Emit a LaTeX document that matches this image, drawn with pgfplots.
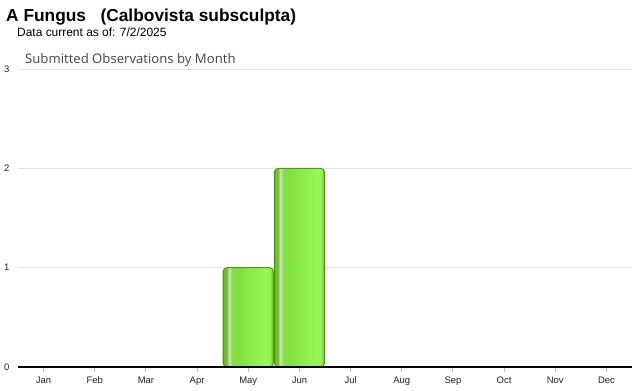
\documentclass[border=0pt]{standalone}
\usepackage{pgfplots}
\pgfplotsset{compat=1.18}
\usepackage{fontspec}
\setmainfont{Liberation Sans}
\newfontfamily\subfont{Open Sans}
\definecolor{gEdge}{RGB}{76,156,12}
\definecolor{gB}{RGB}{120,200,56}
\definecolor{gDk}{RGB}{104,184,40}
\definecolor{gHi}{RGB}{200,228,176}
\definecolor{gC}{RGB}{136,220,80}
\definecolor{gM}{RGB}{128,224,64}
\definecolor{gD}{RGB}{152,248,88}
\definecolor{gF}{RGB}{144,240,80}
\definecolor{gG}{RGB}{108,192,32}
\definecolor{gE}{RGB}{88,168,16}
\definecolor{gridc}{RGB}{228,228,228}
\pgfdeclarehorizontalshading{barshade}{100bp}{color(0bp)=(gEdge); color(25bp)=(gEdge); color(26.5bp)=(gB); color(28bp)=(gDk); color(31bp)=(gHi); color(34bp)=(gC); color(40bp)=(gM); color(68bp)=(gD); color(72bp)=(gF); color(74bp)=(gG); color(75bp)=(gE); color(100bp)=(gE)}
\pgfplotstableread{
x y
1 0
2 0
3 0
4 0
5 1
6 2
7 0
8 0
9 0
10 0
11 0
12 0
}\obsdata
\begin{document}
\begin{tikzpicture}[x=1bp,y=1bp]
\path (0,0) rectangle (640,390);
\node[anchor=base west, inner sep=0, font=\fontsize{17.4}{19}\selectfont\bfseries] at (6,369) {A Fungus\ \ \ (Calbovista subsculpta)};
\node[anchor=base west, inner sep=0, font=\fontsize{12}{14}\selectfont] at (17,354) {Data current as of: 7/2/2025};
\node[anchor=base west, inner sep=0, font=\fontsize{13.2}{15}\selectfont\subfont, text={rgb,255:red,68;green,68;blue,68}] at (25,327) {Submitted Observations by Month};
\begin{axis}[
  at={(18bp,23bp)}, anchor=south west,
  scale only axis, width=614bp, height=298bp,
  xmin=0.5, xmax=12.5, ymin=0, ymax=3,
  ytick={0,1,2,3},
  xtick={1,...,12},
  xticklabels={Jan,Feb,Mar,Apr,May,Jun,Jul,Aug,Sep,Oct,Nov,Dec},
  axis line style={draw=none},
  ymajorgrids, grid style={draw=gridc, line width=0.8bp},
  xtick pos=bottom, ytick pos=left, tick align=outside,
  ytick style={draw=none},
  xtick style={draw={rgb,255:red,190;green,190;blue,190}, line width=1bp},
  major tick length=5bp,
  xticklabel style={font=\fontsize{9.5}{11}\selectfont, text={rgb,255:red,34;green,34;blue,34}, text height=7bp, text depth=2bp, anchor=north, yshift=-1bp},
  yticklabel style={font=\fontsize{9.5}{11}\selectfont, text={rgb,255:red,34;green,34;blue,34}, xshift=-0.2bp},
  /pgf/number format/assume math mode=true,
  clip=false,
  unbounded coords=discard,
  barstyle/.style={ybar, bar width=0.985, bar shift=0pt, draw=gEdge, line width=0.9bp, shade, shading=barshade, rounded corners=4bp},
]
\addplot[barstyle, x filter/.expression={x==5 ? x : nan}] table[x=x,y=y] {\obsdata};
\addplot[barstyle, x filter/.expression={x==6 ? x : nan}] table[x=x,y=y] {\obsdata};
\draw[black, line width=1.5bp] (axis cs:0.5,0) -- (axis cs:12.5,0);
\end{axis}
\end{tikzpicture}
\end{document}
